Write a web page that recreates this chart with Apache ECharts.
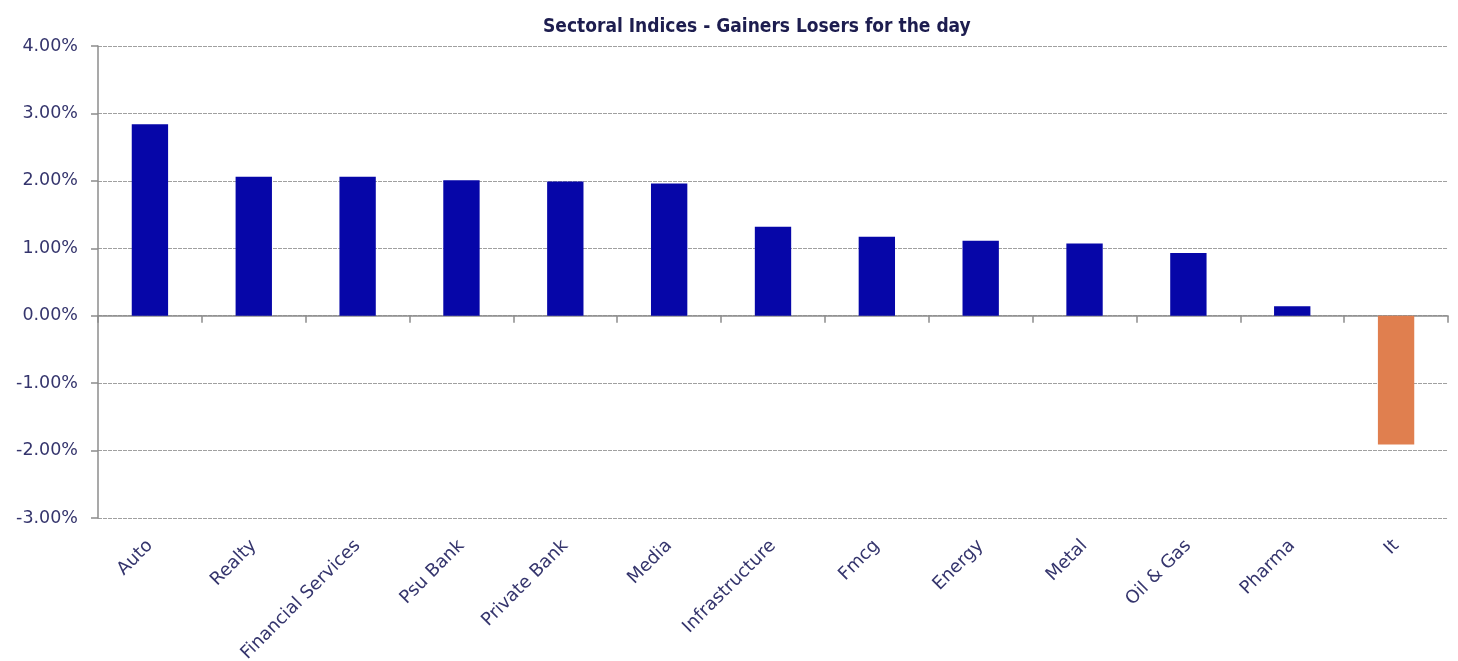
<!DOCTYPE html>
<html>
<head>
<meta charset="utf-8">
<script src="https://cdn.jsdelivr.net/npm/echarts@6/dist/echarts.min.js"></script>
<style>
html,body{margin:0;padding:0;background:#fff;}
#chart{width:1458px;height:661px;}
</style>
</head>
<body>
<div id="chart"></div>
<script>
const categories = ["Auto","Realty","Financial Services","Psu Bank","Private Bank","Media","Infrastructure","Fmcg","Energy","Metal","Oil & Gas","Pharma","It"];
const values = [2.84, 2.06, 2.06, 2.01, 1.99, 1.96, 1.32, 1.17, 1.11, 1.07, 0.93, 0.14, -1.91];
const yTicks = {min: -3, max: 4, interval: 1};
const titleText = "Sectoral Indices - Gainers Losers for the day";

const chart = echarts.init(document.getElementById('chart'));
const labelColor = '#35356d';
chart.setOption({
  animation: false,
  backgroundColor: '#ffffff',
  title: {
    text: titleText,
    left: 538,
    top: 13,
    textStyle: {fontFamily: 'DejaVu Sans Condensed', fontSize: 19, fontWeight: 'bold', color: '#1d1d4f'}
  },
  grid: {left: 98, right: 10, top: 46, bottom: 143, containLabel: false, outerBoundsMode: 'none'},
  xAxis: [
    {
      type: 'category', data: categories, position: 'bottom',
      axisLine: {show: false, onZero: false}, axisTick: {show: false},
      axisLabel: {rotate: 45, interval: 0, margin: 25, fontSize: 18, color: labelColor, fontFamily: 'DejaVu Sans'}
    },
    {
      type: 'category', data: categories, position: 'bottom',
      axisLine: {show: true, onZero: true, lineStyle: {color: '#8c8c8c', width: 1.5}},
      axisTick: {show: true, interval: 0, length: 7, lineStyle: {color: '#8c8c8c', width: 1.5}},
      axisLabel: {show: false}
    }
  ],
  yAxis: {
    type: 'value', min: yTicks.min, max: yTicks.max, interval: yTicks.interval,
    axisLine: {show: true, lineStyle: {color: '#8c8c8c', width: 1.5}},
    axisTick: {show: true, length: 7, lineStyle: {color: '#8c8c8c', width: 1.5}},
    axisLabel: {margin: 20, fontSize: 17.5, color: labelColor, fontFamily: 'DejaVu Sans', formatter: v => v.toFixed(2) + '%'},
    splitLine: {show: true, lineStyle: {color: '#a0a0a0', width: 1.2, type: [4, 1]}}
  },
  series: [{
    type: 'bar',
    xAxisIndex: 0,
    barWidth: '35%',
    data: values.map(v => ({value: v, itemStyle: {color: v < 0 ? '#e07f4f' : '#0606a8'}}))
  }]
});
</script>
</body>
</html>
